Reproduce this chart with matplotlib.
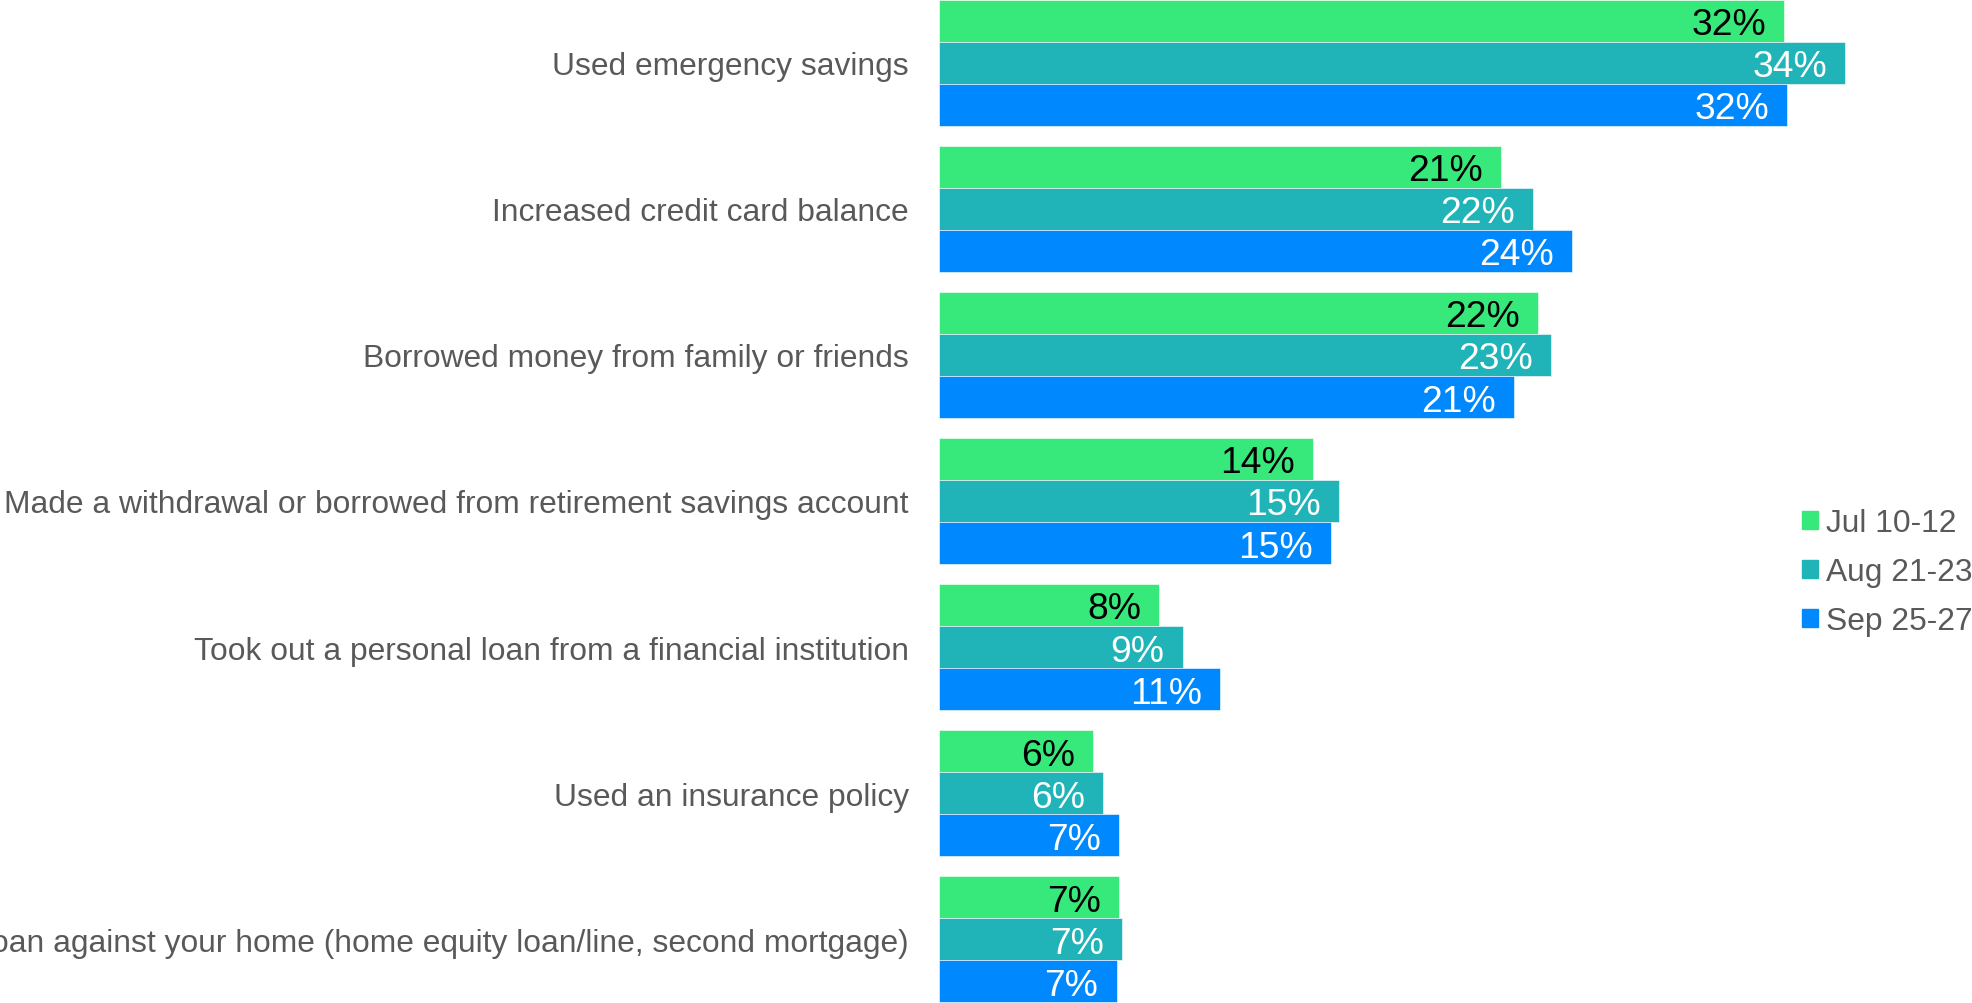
import matplotlib
matplotlib.use("Agg")
import matplotlib.pyplot as plt
import matplotlib.patches as mpatches
import numpy as np

# data (percent of respondents)
categories = [
    "Used emergency savings",
    "Increased credit card balance",
    "Borrowed money from family or friends",
    "Made a withdrawal or borrowed from retirement savings account",
    "Took out a personal loan from a financial institution",
    "Used an insurance policy",
    "Took out a loan against your home (home equity loan/line, second mortgage)",
]
series_names = ["Jul 10-12", "Aug 21-23", "Sep 25-27"]
jul_values = [31.9, 21.2, 22.6, 14.1, 8.3, 5.8, 6.8]
aug_values = [34.2, 22.4, 23.1, 15.1, 9.2, 6.2, 6.9]
sep_values = [32.0, 23.9, 21.7, 14.8, 10.6, 6.8, 6.7]
jul_labels = ["32%", "21%", "22%", "14%", "8%", "6%", "7%"]
aug_labels = ["34%", "22%", "23%", "15%", "9%", "6%", "7%"]
sep_labels = ["32%", "24%", "21%", "15%", "11%", "7%", "7%"]

colors = ["#37E97A", "#20B4B8", "#0088FF"]
label_colors = ["black", "white", "white"]

plt.rcParams['font.family'] = ['Liberation Sans', 'DejaVu Sans']

fig = plt.figure(figsize=(19.72, 10.04), dpi=100)
ax = fig.add_axes([939 / 1972, 0.0, 1 - 939 / 1972, 1.0])

h = 0.288
y = np.arange(len(categories))
all_values = [jul_values, aug_values, sep_values]
all_labels = [jul_labels, aug_labels, sep_labels]

for k, (vals, labs) in enumerate(zip(all_values, all_labels)):
    pos = y + (k - 1) * h
    ax.barh(pos, vals, height=h, color=colors[k], edgecolor="white", linewidth=0.4)
    for p, v, t in zip(pos, vals, labs):
        ax.annotate(t, xy=(v, p), xytext=(-13, 0), textcoords="offset points",
                    ha="right", va="center_baseline", fontsize=26.8, color=label_colors[k])

ax.set_ylim(len(categories) - 1 + 1.5 * h + 0.005, -1.5 * h - 0.005)
ax.set_xlim(0, 1033 / 26.5)
ax.set_yticks(y)
ax.set_yticklabels(categories, fontsize=22.9, color="#595959")
ax.tick_params(axis="y", length=0, pad=21.6)
ax.set_xticks([])
for s in ax.spines.values():
    s.set_visible(False)

handles = [mpatches.Patch(color=c, label=n) for c, n in zip(colors, series_names)]
fig.legend(handles=handles, loc="center left", bbox_to_anchor=(1802 / 1972, 1 - 573 / 1004),
           frameon=False, fontsize=22.9, labelcolor="#595959", borderpad=0, borderaxespad=0,
           handlelength=0.5, handleheight=0.5, handletextpad=0.27, labelspacing=0.6)

fig.savefig("out.png", dpi=100)
